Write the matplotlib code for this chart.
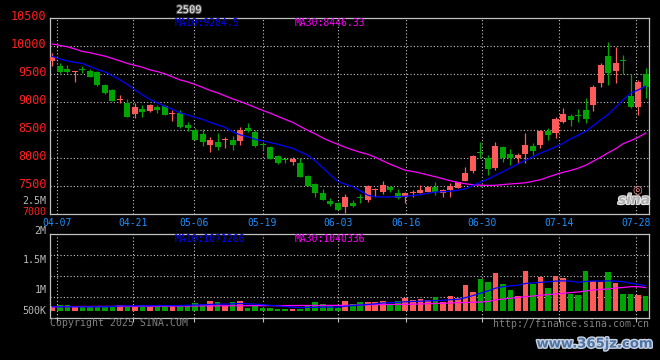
import numpy as np
import matplotlib
matplotlib.use("Agg")
import matplotlib.pyplot as plt
import matplotlib.patheffects as pe
from matplotlib.transforms import blended_transform_factory, ScaledTranslation

# SI2509 daily k-line, 04-03 .. 07-30
opens = [9730, 9640, 9590, 9535, 9580, 9555, 9540, 9305, 9215, 9030,
         8990, 8790, 8880, 8840, 8910, 8930, 8790, 8800, 8590, 8500,
         8430, 8240, 8290, 8320, 8320, 8310, 8540, 8470, 8240, 8200,
         8040, 7975, 7920, 7915, 7685, 7540, 7380, 7240, 7200, 7130,
         7200, 7300, 7255, 7430, 7400, 7490, 7380, 7310, 7375, 7380,
         7400, 7490, 7380, 7430, 7470, 7595, 7770, 8100, 8005, 7825,
         8200, 8075, 8005, 8075, 8220, 8235, 8485, 8450, 8645, 8755,
         8760, 8860, 8950, 9340, 9820, 9555, 9740, 9110, 8915, 9500]
highs = [9880, 9700, 9660, 9560, 9640, 9590, 9560, 9320, 9230, 9130,
         9060, 8980, 8950, 8970, 8950, 8950, 8860, 8860, 8640, 8540,
         8520, 8380, 8440, 8380, 8400, 8560, 8630, 8500, 8290, 8210,
         8050, 8020, 8025, 8000, 7700, 7560, 7450, 7290, 7220, 7360,
         7255, 7360, 7520, 7470, 7590, 7500, 7450, 7390, 7420, 7520,
         7500, 7580, 7450, 7560, 7580, 7845, 8060, 8290, 8060, 8290,
         8220, 8165, 8095, 8450, 8270, 8505, 8540, 8735, 8895, 8790,
         8880, 9075, 9305, 9700, 10070, 9985, 9840, 9500, 9395, 9610]
lows = [9650, 9520, 9520, 9360, 9520, 9440, 9290, 9150, 9010, 8975,
        8730, 8720, 8740, 8820, 8800, 8760, 8660, 8540, 8490, 8320,
        8220, 8110, 8150, 8170, 8150, 8240, 8470, 8200, 8140, 7980,
        7900, 7910, 7880, 7660, 7500, 7310, 7250, 7150, 7070, 7020,
        7130, 7200, 7220, 7310, 7360, 7400, 7270, 7200, 7310, 7370,
        7390, 7340, 7310, 7300, 7460, 7590, 7740, 8000, 7700, 7790,
        7930, 7880, 7915, 7915, 8060, 8180, 8325, 8360, 8630, 8575,
        8645, 8630, 8840, 9270, 9305, 9340, 9500, 8900, 8770, 9075]
closes = [9800, 9540, 9540, 9550, 9570, 9450, 9305, 9165, 9020, 9045,
          8735, 8910, 8830, 8950, 8860, 8770, 8800, 8560, 8540, 8330,
          8290, 8330, 8200, 8330, 8230, 8500, 8490, 8220, 8225, 7990,
          7915, 7965, 7980, 7665, 7505, 7380, 7255, 7185, 7080, 7310,
          7150, 7290, 7500, 7440, 7520, 7420, 7290, 7380, 7385, 7430,
          7490, 7400, 7430, 7500, 7575, 7735, 8040, 8090, 7810, 8220,
          8005, 8005, 8055, 8235, 8130, 8485, 8415, 8700, 8790, 8680,
          8750, 8700, 9270, 9660, 9520, 9700, 9730, 8915, 9360, 9270]
ma10 = [9814, 9769, 9733, 9707, 9689, 9632, 9582, 9537, 9466, 9395,
        9314, 9216, 9127, 9047, 8984, 8922, 8869, 8806, 8771, 8726,
        8690, 8637, 8592, 8548, 8467, 8414, 8378, 8334, 8307, 8277,
        8245, 8209, 8173, 8111, 8049, 7950, 7826, 7701, 7585, 7531,
        7487, 7415, 7335, 7308, 7303, 7305, 7308, 7317, 7332, 7344,
        7371, 7392, 7398, 7406, 7424, 7451, 7510, 7567, 7624, 7692,
        7754, 7826, 7892, 7959, 8022, 8088, 8141, 8200, 8262, 8343,
        8405, 8476, 8574, 8681, 8779, 8904, 9038, 9160, 9215, 9284.5]
ma30 = [10036, 10010, 9986, 9947, 9903, 9881, 9849, 9819, 9778, 9733,
        9689, 9653, 9621, 9573, 9543, 9502, 9448, 9395, 9359, 9314,
        9261, 9207, 9163, 9109, 9056, 9011, 8958, 8904, 8851, 8801,
        8744, 8690, 8637, 8565, 8494, 8432, 8360, 8298, 8245, 8191,
        8146, 8102, 8066, 8013, 7950, 7888, 7835, 7781, 7759, 7731,
        7697, 7665, 7629, 7594, 7563, 7540, 7522, 7515, 7510, 7513,
        7526, 7537, 7546, 7558, 7585, 7612, 7660, 7704, 7745, 7777,
        7817, 7870, 7941, 8013, 8093, 8164, 8255, 8310, 8370, 8446.33]

volume = [734, 746, 746, 729, 729, 729, 729, 729, 729, 746,
          729, 729, 746, 729, 729, 746, 729, 746, 746, 785,
          763, 814, 792, 729, 792, 814, 700, 729, 700, 700,
          678, 678, 678, 678, 746, 792, 763, 720, 700, 814,
          763, 797, 792, 792, 814, 763, 814, 859, 831, 847,
          831, 876, 792, 903, 859, 1085, 971, 1186, 1131, 1283,
          1102, 1000, 903, 1322, 1102, 1215, 1039, 1242, 1208, 932,
          915, 1322, 1158, 1131, 1300, 1124, 932, 932, 915, 903]  # K
vol_ma10 = [715, 715, 715, 715, 715, 715, 715, 715, 720, 730,
            730, 730, 730, 730, 735, 735, 735, 735, 740, 745,
            750, 755, 760, 760, 765, 770, 765, 760, 750, 740,
            730, 720, 710, 700, 705, 705, 710, 710, 712, 725,
            735, 745, 755, 765, 780, 785, 790, 800, 805, 810,
            815, 820, 825, 835, 840, 870, 905, 945, 985, 1030,
            1055, 1070, 1080, 1110, 1120, 1130, 1140, 1150, 1155, 1150,
            1130, 1145, 1150, 1150, 1155, 1150, 1140, 1115, 1095, 1071.266]
vol_ma30 = [718, 718, 719, 719, 720, 720, 721, 721, 722, 722,
            723, 723, 724, 725, 725, 726, 727, 727, 728, 729,
            730, 730, 731, 732, 732, 733, 733, 734, 734, 735,
            735, 736, 736, 737, 737, 738, 738, 739, 739, 740,
            742, 746, 748, 750, 752, 754, 755, 757, 760, 764,
            768, 771, 775, 779, 785, 788, 792, 796, 805, 831,
            847, 859, 873, 886, 898, 910, 922, 932, 944, 956,
            966, 983, 1000, 1008, 1017, 1034, 1042, 1056, 1056, 1040.336]

date_labels = ["04-07", "04-21", "05-06", "05-19", "06-03",
               "06-16", "06-30", "07-14", "07-28"]
date_ticks = [0.63, 10.75, 18.87, 27.99, 38.08, 47.14, 57.26, 67.43, 77.72]
price_ticks = [7000, 7500, 8000, 8500, 9000, 9500, 10000, 10500]
vol_label_vals = [2.5e6, 2e6, 1.5e6, 1e6, 5e5]
vol_label_text = ["2.5M", "2M", "1.5M", "1M", "500K"]

RED = "#ff5a5a"
GREEN = "#00a400"
GRID = "#c8c8c8"
SPINE = "#c0c0c0"
MONO = "DejaVu Sans Mono"

VOL_LO, VOL_HI, VOL_BASE = 525e3, 1949e3, 644e3

o = np.array(opens, float)
c = np.array(closes, float)
h = np.array(highs, float)
l = np.array(lows, float)
x = np.arange(len(o))
up = c >= o
col = np.where(up, RED, GREEN)
vol = np.array(volume, float) * 1000

fig = plt.figure(figsize=(6.6, 3.6), dpi=100, facecolor="black")
ax = fig.add_axes([50 / 660, 146 / 360, 599 / 660, 196 / 360], facecolor="black")
axv = fig.add_axes([50 / 660, 42 / 360, 599 / 660, 84 / 360], facecolor="black")

for a in (ax, axv):
    a.set_xlim(-0.31, 79.45)
    for s in a.spines.values():
        s.set_color(SPINE)
        s.set_linewidth(0.9)
    a.set_axisbelow(True)
    a.set_xticks(date_ticks)
    a.grid(True, color=GRID, linestyle=(0, (1, 2)), linewidth=0.8)

# price panel
ax.set_ylim(7000, 10500)
ax.vlines(x, l, h, colors=col, linewidth=0.9, zorder=2)
body_lo = np.minimum(o, c)
body_h = np.maximum(np.abs(c - o), 18)
ax.bar(x, body_h, bottom=body_lo, width=0.8, color=col, linewidth=0, zorder=3)
ax.plot(x, ma30, color="#ff00ff", linewidth=0.9, zorder=4)
ax.plot(x, ma10, color="#0000ff", linewidth=0.9, zorder=4)

ax.set_yticks(price_ticks[1:-1])
ax.set_yticklabels([])
ax.tick_params(axis="both", length=0)
ax.set_xticklabels(date_labels, color="#1e90ff", family=MONO, fontsize=7)
ax.tick_params(axis="x", pad=3)
ytr = blended_transform_factory(ax.transAxes, ax.transData)
for v in price_ticks:
    fs = 7.2 if v == 7000 else 8.5
    ax.text(-0.006, v, str(v), transform=ytr + ScaledTranslation(0, 2 / 100, fig.dpi_scale_trans),
            ha="right", va="center", color="#ff2020", family=MONO, fontsize=fs, clip_on=False)

fig.text(175 / 660, 1 - 23.5 / 360, "MA10:%.1f" % ma10[-1], color="#0000ff",
         family=MONO, fontsize=7, va="center")
fig.text(295 / 660, 1 - 23.5 / 360, "MA30:%.2f" % ma30[-1], color="#ff00ff",
         family=MONO, fontsize=7, va="center")
fig.text(189 / 660, 1 - 10 / 360, "2509", color="#e8e8e8", family=MONO, fontsize=7.5,
         ha="center", va="center",
         path_effects=[pe.withStroke(linewidth=1.5, foreground="#555555")])

# volume panel
axv.set_ylim(VOL_LO, VOL_HI)
axv.bar(x, vol - VOL_BASE, bottom=VOL_BASE, width=0.75, color=col, linewidth=0, zorder=2)
axv.plot(x, np.array(vol_ma30) * 1000, color="#ff00ff", linewidth=0.9, zorder=4)
axv.plot(x, np.array(vol_ma10) * 1000, color="#0000ff", linewidth=0.9, zorder=4)
axv.set_yticks([VOL_LO + (VOL_HI - VOL_LO) * f for f in (0.25, 0.5, 0.75)])
axv.set_yticklabels([])
axv.set_xticklabels([])
axv.tick_params(axis="y", length=0)
axv.tick_params(axis="x", length=3, color=SPINE, width=0.8)
vtr = blended_transform_factory(axv.transAxes, axv.transData)
for v, t in zip(vol_label_vals, vol_label_text):
    axv.text(-0.006, max(v, VOL_BASE), t, transform=vtr, ha="right", va="center",
             color="#b8b8b8", family=MONO, fontsize=7.2, clip_on=False)

fig.text(175 / 660, 1 - 239 / 360, "MA10:%d" % round(vol_ma10[-1] * 1000), color="#0000ff",
         family=MONO, fontsize=7, va="center")
fig.text(295 / 660, 1 - 239 / 360, "MA30:%d" % round(vol_ma30[-1] * 1000), color="#ff00ff",
         family=MONO, fontsize=7, va="center")

# footer and logos
fig.text(50 / 660, 1 - 323.5 / 360, "Copyright 2025 SINA.COM", color="#808080",
         family=MONO, fontsize=7.1, va="center")
fig.text(649 / 660, 1 - 324 / 360, "http://finance.sina.com.cn", color="#808080",
         family=MONO, fontsize=7.1, va="center", ha="right")
fig.text(595 / 660, 1 - 344 / 360, "www.365jz.com", color="#4f74a8", fontsize=9.5,
         fontweight="bold", ha="center", va="center",
         path_effects=[pe.withStroke(linewidth=2, foreground="#c8d2e0")])
fig.text(634 / 660, 1 - 200 / 360, "sina", color="#b0b0b0", fontsize=10, style="italic",
         fontweight="bold", ha="center", va="center",
         path_effects=[pe.withStroke(linewidth=1.5, foreground="#e8e8e8")])
fig.text(637 / 660, 1 - 189 / 360, "\u25ce", color="#ff8c8c", fontsize=8,
         ha="center", va="center")

fig.savefig("out.png", dpi=100, facecolor="black")
